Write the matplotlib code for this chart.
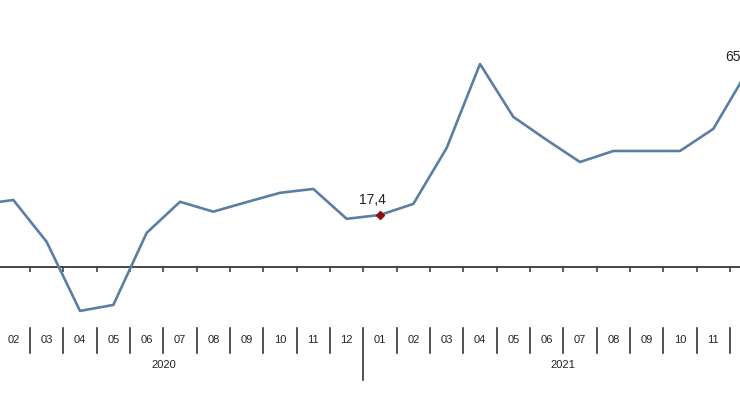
import numpy as np
import matplotlib.pyplot as plt
import matplotlib.transforms as mtransforms

plt.rcParams['font.family'] = ['Liberation Sans', 'DejaVu Sans']

# monthly values, 01/2020 .. 12/2021
months = ['01', '02', '03', '04', '05', '06', '07', '08', '09', '10', '11', '12'] * 2
years = ['2020', '2021']
values = [20.9, 22.4, 8.4, -14.7, -12.7, 11.4, 21.8, 18.5, 21.7, 24.8, 26.1, 16.1,
          17.4, 21.1, 39.8, 67.9, 50.2, 42.5, 35.1, 38.8, 38.8, 38.8, 46.2, 65.1]
# points that get a value label
labelled = [12, 23]

fig = plt.figure(figsize=(7.4, 4.0), dpi=100)
ax = fig.add_axes([0, 0, 1, 1])
ax.set_axis_off()

x = np.arange(len(values))
x0, x1 = 0.6, 22.8
ax.set_xlim(x0, x1)
ax.set_ylim(-44.5, 89.3)

# zero line with small ticks between months
ax.axhline(0, color='#444444', lw=1.4, zorder=1)
bounds = x[:-1] + 0.5
ax.vlines(bounds, -1.8, 0, color='#333333', lw=1.1, zorder=1)

ax.plot(x, values, color='#5b7ea4', lw=1.9, zorder=2)

for i in labelled:
    ax.plot(x[i], values[i], marker='D', ms=4.5, color='#8b1010', zorder=3, clip_on=False)
    txt = f'{values[i]:.1f}'.replace('.', ',')
    ax.annotate(txt, (x[i], values[i]), xytext=(-8, 15), textcoords='offset pixels',
                ha='center', va='center', fontsize=10, color='#222222',
                annotation_clip=False)

# category axis below (only the months that fall inside the view)
tr = mtransforms.blended_transform_factory(ax.transData, ax.transAxes)
for i, m in enumerate(months):
    if x0 < x[i] - 0.2 and x[i] + 0.2 < x1:
        ax.text(x[i], 0.15, m, transform=tr, ha='center', va='center', fontsize=8, color='#222222')
for b in bounds:
    if b == 11.5:
        ax.plot([b, b], [0.18, 0.05], transform=tr, color='#222222', lw=1.1)
    else:
        ax.plot([b, b], [0.18, 0.1175], transform=tr, color='#222222', lw=1.1)
for k, yr in enumerate(years):
    ax.text(5.5 + 12 * k, 0.0875, yr, transform=tr, ha='center', va='center',
            fontsize=8, color='#222222')

fig.savefig('out.png', dpi=100)
